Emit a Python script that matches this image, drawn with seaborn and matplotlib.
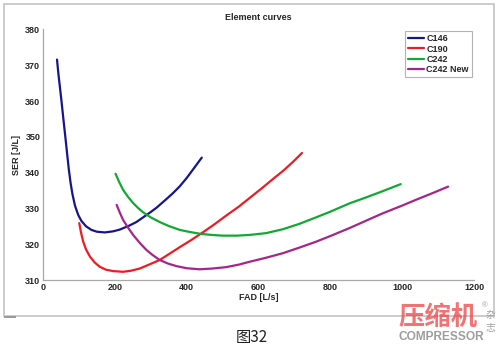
import matplotlib
matplotlib.use("Agg")
import matplotlib.pyplot as plt
import seaborn as sns
import pandas as pd
from matplotlib.patches import Rectangle

# ---- data ----
c146_x = [39, 43, 47, 52, 56, 60, 64, 68, 72, 77, 82, 89, 98, 107, 120, 135, 150, 172,
          195, 214, 240, 260, 280, 300, 316, 340, 360, 380, 400, 420, 442]
c146_y = [371.6, 367.5, 364, 359.5, 355.7, 352, 348.3, 344.5, 340.8, 337, 334, 330.8, 328.2,
          326.5, 325, 324, 323.5, 323.3, 323.6, 324.1, 325.2, 326.2, 327.6, 329, 330.2,
          332.3, 334.1, 336.1, 338.5, 341.2, 344.2]

c190_x = [101, 106, 112, 120, 131, 144, 158, 175, 195, 223, 245, 269, 295, 325, 350, 381,
          410, 439, 475, 510, 545, 575, 610, 640, 672, 700, 721]
c190_y = [325.9, 323.2, 320.7, 318.5, 316.5, 314.9, 313.7, 312.9, 312.5, 312.3, 312.6, 313.2,
          314.3, 315.6, 317.2, 319.2, 321.0, 322.9, 325.4, 328.0, 330.5, 332.9, 335.7, 338.2,
          340.8, 343.4, 345.5]

c242_x = [202, 212, 223, 237, 251, 265, 279, 300, 325, 350, 381, 410, 439, 470, 500, 540,
          575, 621, 668, 714, 760, 800, 853, 900, 945, 996]
c242_y = [339.7, 337.4, 335.2, 333.2, 331.5, 330.1, 328.9, 327.5, 326.2, 325.1, 324.0, 323.4,
          322.9, 322.6, 322.4, 322.4, 322.6, 323.1, 324.2, 325.7, 327.5, 329.1, 331.4, 333.1,
          334.8, 336.8]

c242n_x = [205, 214, 223, 237, 251, 270, 288, 305, 325, 348, 371, 400, 436, 470, 510, 545,
           575, 620, 668, 715, 760, 805, 853, 900, 945, 1000, 1038, 1085, 1128]
c242n_y = [331, 328.8, 326.8, 324.6, 322.6, 320.3, 318.4, 317.0, 315.6, 314.6, 313.9, 313.3,
           313.0, 313.2, 313.6, 314.3, 315.1, 316.2, 317.5, 319.1, 320.7, 322.5, 324.5, 326.6,
           328.6, 330.8, 332.4, 334.3, 336.1]

series_names = ["C146", "C190", "C242", "C242 New"]
series_colors = ["#16168a", "#ec1c24", "#12a832", "#a3268c"]
x_ticks = [0, 200, 400, 600, 800, 1000, 1200]
y_ticks = [310, 320, 330, 340, 350, 360, 370, 380]

frames = []
for name, xs, ys in zip(series_names,
                        [c146_x, c190_x, c242_x, c242n_x],
                        [c146_y, c190_y, c242_y, c242n_y]):
    frames.append(pd.DataFrame({"FAD": xs, "SER": ys, "series": name}))
df = pd.concat(frames, ignore_index=True)

sns.set_style("white")
plt.rcParams["font.family"] = ["Liberation Sans", "DejaVu Sans"]

fig = plt.figure(figsize=(5, 3.47), dpi=100)
fig.patch.set_facecolor("white")

# outer frame
fig.patches.append(Rectangle((0.007, 0.089), 0.981, 0.899, transform=fig.transFigure,
                             fill=False, edgecolor="#c4c4c4", linewidth=1.2, zorder=0))
fig.patches.append(Rectangle((0.008, 0.083), 0.024, 0.007, transform=fig.transFigure,
                             facecolor="#9a9a9a", edgecolor="none", zorder=0))

ax = fig.add_axes([0.086, 0.193, 0.862, 0.722])
sns.lineplot(data=df, x="FAD", y="SER", hue="series", hue_order=series_names,
             palette=series_colors, sort=False, estimator=None, linewidth=1.6, ax=ax)
for ln in ax.get_lines():
    ln.set_solid_joinstyle("round")

ax.set_xlim(0, 1200)
ax.set_ylim(310, 380)
ax.set_xticks(x_ticks)
ax.set_yticks(y_ticks)
ax.tick_params(direction="in", length=3, width=0.8, color="#9a9a9a",
               labelsize=6.5, pad=2)
for lab in ax.get_xticklabels() + ax.get_yticklabels():
    lab.set_fontweight("bold")
for s in ["top", "right"]:
    ax.spines[s].set_visible(False)
for s in ["left", "bottom"]:
    ax.spines[s].set_color("#a8a8a8")
    ax.spines[s].set_linewidth(0.9)

ax.set_title("Element curves", fontsize=6.5, fontweight="bold", pad=7)
ax.set_xlabel("FAD [L/s]", fontsize=6.5, fontweight="bold", labelpad=1)
ax.set_ylabel("SER [J/L]", fontsize=6.5, fontweight="bold", labelpad=3)

leg = ax.legend(loc="upper right", bbox_to_anchor=(0.995, 0.994), fontsize=6.5,
                frameon=True, fancybox=False, handlelength=1.8, handletextpad=0.2,
                borderpad=0.35, labelspacing=0.15, borderaxespad=0)
leg.get_frame().set_edgecolor("#a0a0a0")
leg.get_frame().set_linewidth(0.8)
for t in leg.get_texts():
    t.set_fontweight("bold")
for h in leg.get_lines():
    h.set_linewidth(1.6)

# caption
fig.text(0.503, 0.028, "图32", fontsize=11, family=["Noto Sans CJK SC", "DejaVu Sans"],
         ha="center", va="center", color="#222222")

# watermark
fig.text(0.798, 0.045, "压缩机", fontsize=19, family=["Noto Sans CJK SC", "DejaVu Sans"],
         color="#ee4444", alpha=0.75, ha="left", va="bottom", fontweight="bold")
fig.text(0.797, 0.012, "COMPRESSOR", fontsize=8.6, color="#8c8c8c", alpha=0.85,
         fontweight="bold", ha="left", va="bottom")
fig.text(0.981, 0.093, "杂", fontsize=7, family=["Noto Sans CJK SC", "DejaVu Sans"],
         color="#a0a0a0", ha="center", va="center")
fig.text(0.981, 0.055, "志", fontsize=7, family=["Noto Sans CJK SC", "DejaVu Sans"],
         color="#a0a0a0", ha="center", va="center")
fig.text(0.970, 0.12, "®", fontsize=5.5, color="#a0a0a0", ha="center", va="center")

fig.savefig("out.png", dpi=100, facecolor="white")
